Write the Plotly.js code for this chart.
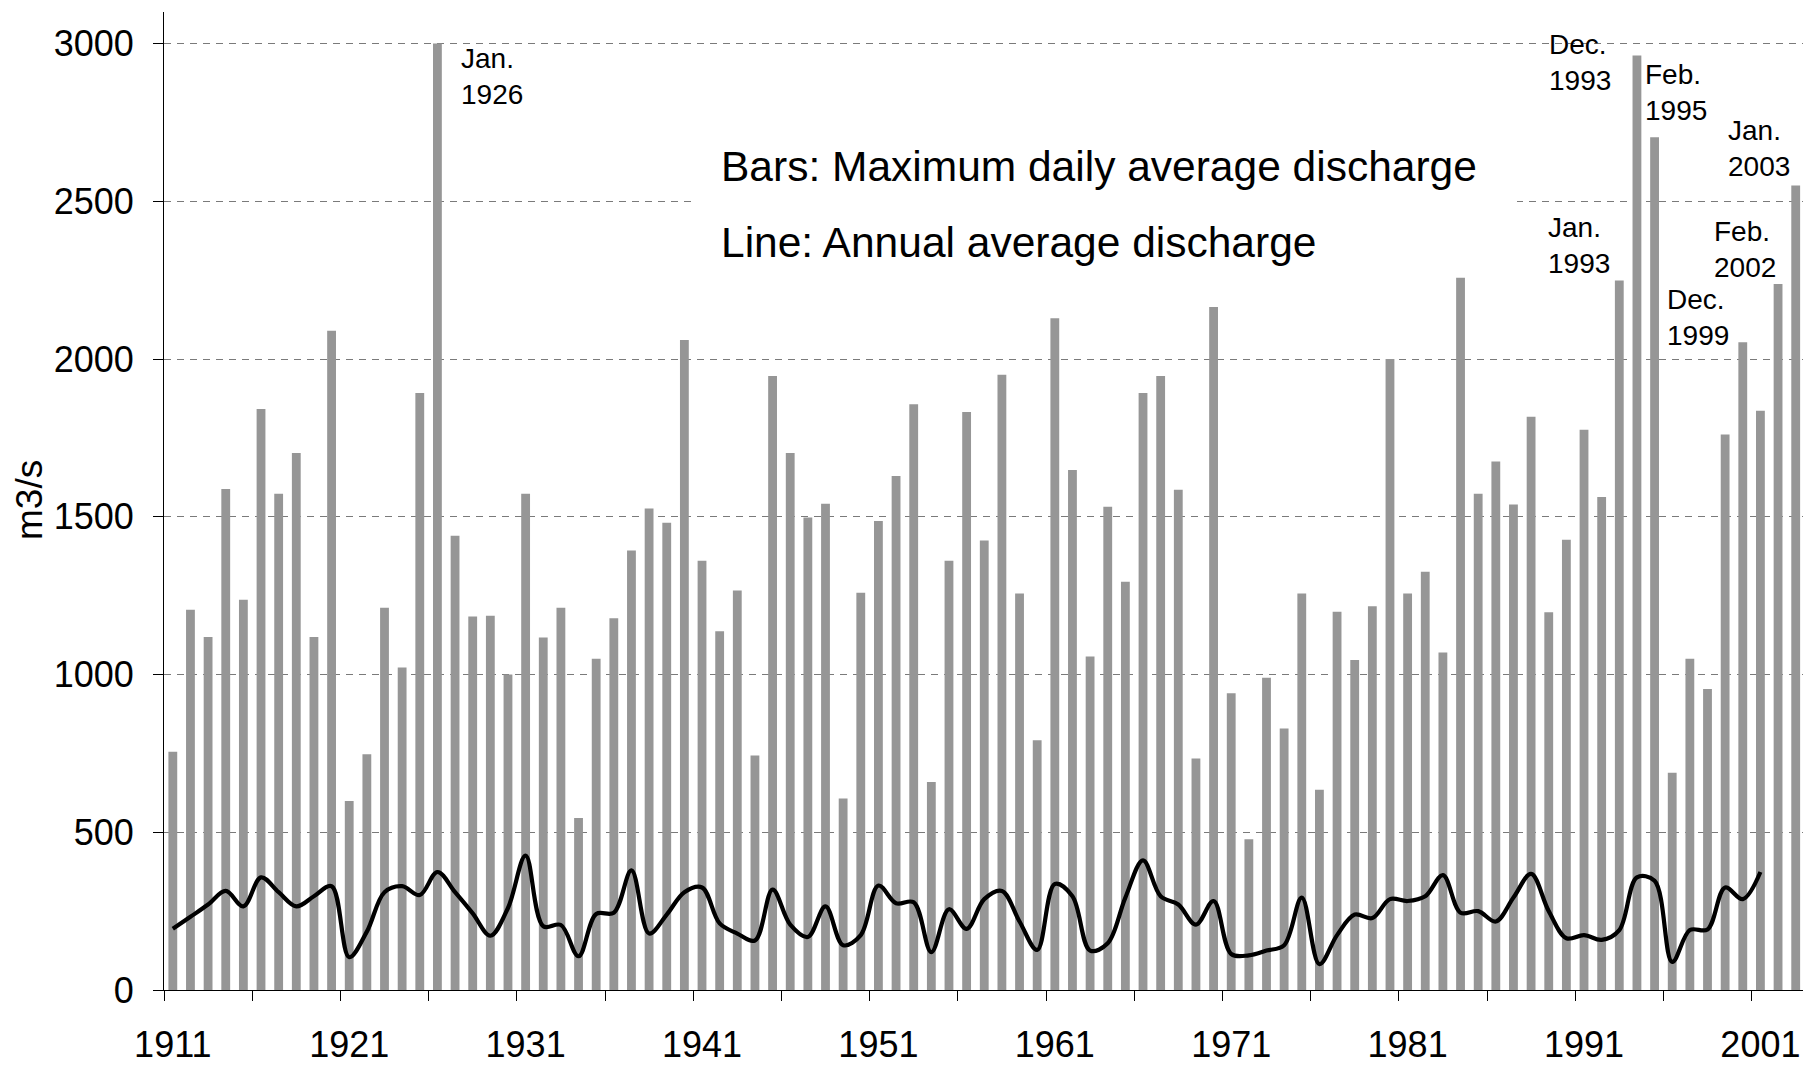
<!DOCTYPE html>
<html>
<head>
<meta charset="utf-8">
<script src="https://cdn.plot.ly/plotly-3.0.1.min.js"></script>
<style>html,body{margin:0;padding:0;background:#fff;}#chart{width:1803px;height:1066px;}</style>
</head>
<body>
<div id="chart"></div>
<script>
// ---- data ----
const barYears = [];
for (let y = 1911; y <= 2003; y++) barYears.push(y);
const maxDailyDischarge = [
  755, 1205, 1119, 1588, 1237, 1842, 1573, 1702, 1119, 2090,
  599, 747, 1212, 1022, 1892, 3000, 1440, 1184, 1186, 1000,
  1573, 1117, 1212, 545, 1050, 1178, 1393, 1526, 1481, 2060,
  1361, 1137, 1266, 743, 1946, 1702, 1498, 1541, 607, 1259,
  1487, 1629, 1857, 659, 1361, 1832, 1425, 1950, 1257, 792,
  2129, 1648, 1057, 1532, 1294, 1892, 1946, 1586, 734, 2165,
  941, 478, 990, 829, 1257, 635, 1199, 1046, 1216, 2000,
  1257, 1326, 1070, 2258, 1573, 1675, 1539, 1817, 1197, 1427,
  1776, 1563, 2249, 2962, 2703, 689, 1050, 954, 1761, 2053,
  1836, 2238, 2550
];
const lineYears = [];
for (let y = 1911; y <= 2001; y++) lineYears.push(y);
const annualAverage = [
  194, 232, 271, 314, 265, 357, 310, 265, 297, 329,
  104, 185, 310, 329, 301, 374, 310, 243, 172, 260,
  426, 202, 206, 107, 241, 245, 379, 179, 239, 310,
  325, 211, 179, 157, 318, 207, 168, 265, 142, 174,
  331, 275, 278, 120, 256, 194, 288, 314, 217, 127,
  336, 297, 125, 148, 293, 411, 297, 271, 207, 282,
  114, 110, 125, 142, 293, 82, 174, 239, 228, 288,
  282, 297, 364, 245, 250, 217, 293, 368, 250, 164,
  174, 159, 190, 357, 346, 89, 190, 192, 325, 288,
  374
];
const labelYears = [1911, 1921, 1931, 1941, 1951, 1961, 1971, 1981, 1991, 2001];
const yTicks = [0, 500, 1000, 1500, 2000, 2500, 3000];
const peakLabels = ["Jan.<br>1926", "Dec.<br>1993", "Feb.<br>1995", "Jan.<br>2003", "Jan.<br>1993", "Feb.<br>2002", "Dec.<br>1999"];
const noteLines = ["Bars: Maximum daily average discharge", "Line: Annual average discharge"];
const yTitle = "m3/s";

// ---- layout helpers (pixel geometry) ----
const W = 1803, H = 1066;
const L = 164, T = 12, B = 76, R = 0;
const pw = W - L - R, ph = H - T - B;
const catW = 17.64;
const xr = [1910.5, 1910.5 + pw / catW];
const px2paperX = p => (p - L) / pw;
const px2paperY = p => (H - B - p) / ph;

const FONT = '"Liberation Sans", Arial, Helvetica, sans-serif';

// positions of the peak labels (left edge px, vertical centre px)
const peakPos = [[459, 76], [1547, 62], [1643, 92], [1726, 148], [1546, 246], [1712, 250], [1665, 317]];

const annotations = peakLabels.map((t, i) => ({
  text: t, xref: 'paper', yref: 'paper',
  x: px2paperX(peakPos[i][0]), y: px2paperY(peakPos[i][1]),
  xanchor: 'left', yanchor: 'middle', align: 'left', showarrow: false,
  font: {family: FONT, size: 28, color: '#000'}
}));
annotations.push({
  text: noteLines[0], xref: 'paper', yref: 'paper',
  x: px2paperX(719), y: px2paperY(166), xanchor: 'left', yanchor: 'middle',
  showarrow: false, font: {family: FONT, size: 42.5, color: '#000'}
});
annotations.push({
  text: noteLines[1], xref: 'paper', yref: 'paper',
  x: px2paperX(719), y: px2paperY(243), xanchor: 'left', yanchor: 'middle',
  showarrow: false, font: {family: FONT, size: 42.5, color: '#000'}
});
annotations.push({
  text: yTitle, xref: 'paper', yref: 'paper',
  x: px2paperX(30), y: px2paperY(500), xanchor: 'center', yanchor: 'middle',
  textangle: -90, showarrow: false, font: {family: FONT, size: 37, color: '#000'}
});

const traces = [
  {
    type: 'bar', x: barYears, y: maxDailyDischarge,
    marker: {color: '#969696', line: {width: 0}},
    hoverinfo: 'x+y'
  },
  {
    type: 'scatter', mode: 'lines', x: lineYears, y: annualAverage,
    line: {color: '#000', width: 4.2, shape: 'spline', smoothing: 1},
    hoverinfo: 'x+y'
  }
];

const layout = {
  width: W, height: H,
  margin: {l: L, r: R, t: T, b: B, pad: 0},
  paper_bgcolor: '#fff', plot_bgcolor: '#fff',
  showlegend: false,
  bargap: 0.5,
  font: {family: FONT, color: '#000'},
  xaxis: {
    type: 'linear', range: xr, fixedrange: true,
    tickmode: 'array', tickvals: labelYears, ticktext: labelYears.map(String),
    ticks: '', showgrid: false, zeroline: false,
    showline: true, linecolor: '#000', linewidth: 1,
    tickfont: {family: FONT, size: 36, color: '#000'},
    ticklabelstandoff: 23,
    minor: {ticks: 'outside', tickmode: 'linear', tick0: 1910.5, dtick: 5,
            ticklen: 10, tickwidth: 1, tickcolor: '#000', showgrid: false}
  },
  yaxis: {
    range: [0, 3100], fixedrange: true,
    tickmode: 'array', tickvals: yTicks,
    ticks: 'outside', ticklen: 10, tickwidth: 1, tickcolor: '#000',
    showline: true, linecolor: '#000', linewidth: 1,
    showgrid: true, gridcolor: '#7a7a7a', gridwidth: 1, griddash: '7px,6px',
    zeroline: false,
    tickfont: {family: FONT, size: 36, color: '#000'},
    ticklabelstandoff: 12
  },
  shapes: [{
    type: 'rect', layer: 'above', xref: 'x', yref: 'y',
    x0: 1910.5 + (695 - L) / catW, x1: 1910.5 + (1517 - L) / catW,
    y0: 2270, y1: 2740,
    fillcolor: '#fff', line: {width: 0}
  }],
  annotations: annotations
};

Plotly.newPlot('chart', traces, layout, {displayModeBar: false, staticPlot: true});
</script>
</body>
</html>
